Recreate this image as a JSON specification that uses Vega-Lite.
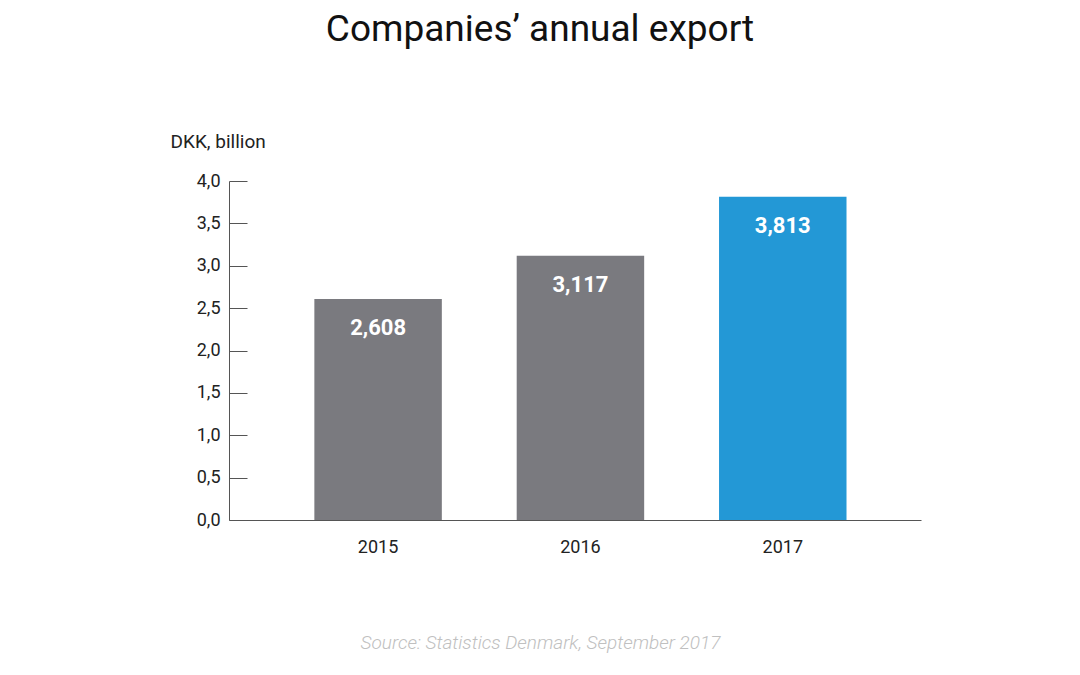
{
  "$schema": "https://vega.github.io/schema/vega-lite/v6.json",
  "autosize": "none",
  "width": 692,
  "height": 339,
  "padding": {"left": 229, "top": 181, "right": 159, "bottom": 155},
  "background": "white",
  "title": {
    "text": "Companies’ annual export",
    "anchor": "middle",
    "frame": "group",
    "dx": -35,
    "offset": 83,
    "font": "Roboto",
    "fontSize": 37,
    "fontWeight": "normal",
    "color": "#111111"
  },
  "config": {
    "view": {"stroke": null},
    "font": "Roboto"
  },
  "data": {
    "values": [
      {"year": "2015", "value": 2.608, "label": "2,608"},
      {"year": "2016", "value": 3.117, "label": "3,117"},
      {"year": "2017", "value": 3.813, "label": "3,813"}
    ]
  },
  "encoding": {
    "x": {
      "field": "year",
      "type": "nominal",
      "scale": {"paddingInner": 0.37, "paddingOuter": 0.395, "align": 0.534},
      "axis": {
        "title": "Source: Statistics Denmark, September 2017",
        "titleFont": "Roboto",
        "titleFontStyle": "italic",
        "titleFontWeight": 300,
        "titleFontSize": 19,
        "titleColor": "#c0c0c0",
        "titleX": 311,
        "titleY": 122,
        "titleAlign": "center",
        "titleBaseline": "middle",
        "labelAngle": 0,
        "labelFontSize": 18,
        "labelColor": "#222222",
        "labelPadding": 18,
        "ticks": false,
        "domainColor": "#555555",
        "domainWidth": 1,
        "grid": false
      }
    },
    "y": {
      "field": "value",
      "type": "quantitative",
      "scale": {"domain": [0, 4], "nice": false},
      "axis": {
        "title": "DKK, billion",
        "titleAngle": 0,
        "titleAlign": "left",
        "titleBaseline": "middle",
        "titleX": -59,
        "titleY": -40,
        "titleFontSize": 19,
        "titleFontWeight": "normal",
        "titleColor": "#222222",
        "values": [0, 0.5, 1, 1.5, 2, 2.5, 3, 3.5, 4],
        "labelExpr": "replace(format(datum.value, '.1f'), '.', ',')",
        "labelFontSize": 18,
        "labelColor": "#222222",
        "tickSize": -18,
        "labelPadding": 27,
        "tickColor": "#555555",
        "domainColor": "#555555",
        "grid": false
      }
    }
  },
  "layer": [
    {
      "mark": {"type": "bar"},
      "encoding": {
        "color": {
          "field": "year",
          "type": "nominal",
          "scale": {"domain": ["2015", "2016", "2017"], "range": ["#7a7a7f", "#7a7a7f", "#2398d6"]},
          "legend": null
        }
      }
    },
    {
      "mark": {"type": "text", "dy": 29, "baseline": "middle", "align": "center", "fontSize": 22, "fontWeight": "bold", "color": "white"},
      "encoding": {
        "text": {"field": "label"}
      }
    }
  ]
}
